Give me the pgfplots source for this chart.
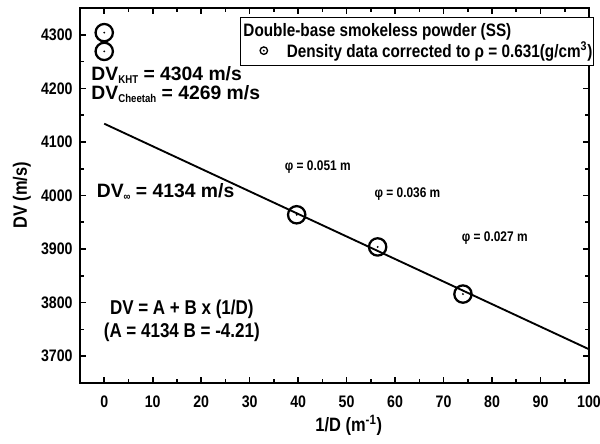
\documentclass[border=0pt]{standalone}
\usepackage{fontspec}
\setmainfont{Liberation Sans}[FakeStretch=0.85]
\newfontfamily\widefont{Liberation Sans}
\usepackage{pgfplots}
\pgfplotsset{compat=1.18}

\pgfdeclareplotmark{cdot}{%
  \pgfpathcircle{\pgfpointorigin}{\pgfplotmarksize}\pgfusepathqstroke
  \pgfpathcircle{\pgfpointorigin}{0.8pt}\pgfusepathqfill}

\pgfplotsset{mylegimg/.style={legend image code/.code={%
    \draw[##1, mark size=2.8pt, mark options={line width=1pt}] plot coordinates {(0pt,0pt)};
    \path (-16pt,0pt) (3pt,0pt);}}}

\newcommand\sub[1]{\raisebox{-0.3ex}{\rmfamily\fontsize{8.5}{8.5}\selectfont\bfseries #1}}

\begin{document}
\begin{tikzpicture}
\begin{axis}[
  width=381.75pt, height=281.25pt, scale only axis,
  xmin=-5, xmax=100, ymin=3650, ymax=4350,
  xtick={0,10,...,100}, ytick={3700,3800,...,4300},
  minor x tick num=1, minor y tick num=1,
  tick align=inside, major tick length=4.5pt, minor tick length=3pt,
  axis line style={line width=1.8pt},
  tick style={line width=1.2pt, black},
  /pgf/number format/assume math mode=true,
  /pgf/number format/1000 sep={},
  tick label style={font=\fontsize{12.5}{12.5}\selectfont\bfseries},
  xticklabel style={yshift=-6pt},
  yticklabel style={xshift=-2pt},
  xlabel={1/D (m\textsuperscript{-1})},
  ylabel={DV (m/s)},
  label style={font=\fontsize{14.5}{14.5}\selectfont\bfseries},
  xlabel style={at={(axis description cs:0.528,-0.112)}, anchor=center},
  ylabel style={at={(axis description cs:-0.114,0.5)}, anchor=center},
  legend style={at={(0.314,0.976)}, anchor=north west, draw=black, line width=1pt,
    fill=white, inner xsep=1pt, inner ysep=3.5pt, column sep=13.75pt, row sep=0.3pt,
    font=\fontsize{13.5}{13.5}\selectfont\bfseries,
    nodes={inner xsep=0pt, inner ysep=1pt}},
  legend cell align=left,
]
\addlegendimage{empty legend}
\addlegendentry{\hspace*{-32.5pt}Double-base smokeless powder (SS)}

\addplot[no marks, line width=1.4pt, forget plot] coordinates {(0,4134) (100,3713)};

\addplot[only marks, mark=cdot, mark size=6.5pt, mark options={line width=1.7pt}, mylegimg]
  coordinates {(39.7,3964) (56.4,3904) (74.0,3816)};
\addlegendentry{Density data corrected to ρ = 0.631(g/cm\textsuperscript{3})}

\addplot[only marks, mark=cdot, mark size=6.5pt, mark options={line width=1.7pt}, forget plot]
  coordinates {(0,4304) (0,4269)};

\node[anchor=base west, font=\widefont\fontsize{14.5}{14.5}\selectfont\bfseries] at (axis cs:-3.6,4214) {DV\sub{KHT} = 4304 m/s};
\node[anchor=base west, font=\widefont\fontsize{14.5}{14.5}\selectfont\bfseries] at (axis cs:-3.6,4180) {DV\sub{Cheetah} = 4269 m/s};
\node[anchor=base west, font=\widefont\fontsize{14.5}{14.5}\selectfont\bfseries] at (axis cs:-2.5,3996) {DV\sub{∞} = 4134 m/s};
\node[anchor=base, font=\fontsize{15}{15}\selectfont\bfseries] at (axis cs:16,3778) {DV = A + B x (1/D)};
\node[anchor=base, font=\fontsize{15}{15}\selectfont\bfseries] at (axis cs:16,3734) {(A = 4134 B = -4.21)};
\node[anchor=base west, font=\fontsize{10.5}{10.5}\selectfont\bfseries] at (axis cs:36.3,4046) {φ = 0.051 m};
\node[anchor=base west, font=\fontsize{10.5}{10.5}\selectfont\bfseries] at (axis cs:54.8,3996) {φ = 0.036 m};
\node[anchor=base west, font=\fontsize{10.5}{10.5}\selectfont\bfseries] at (axis cs:72.8,3915) {φ = 0.027 m};
\end{axis}
\pgfresetboundingbox
\path ([shift={(-60pt,-45.75pt)}]current axis.south west) rectangle ([shift={(8.25pt,6pt)}]current axis.north east);
\end{tikzpicture}
\end{document}
